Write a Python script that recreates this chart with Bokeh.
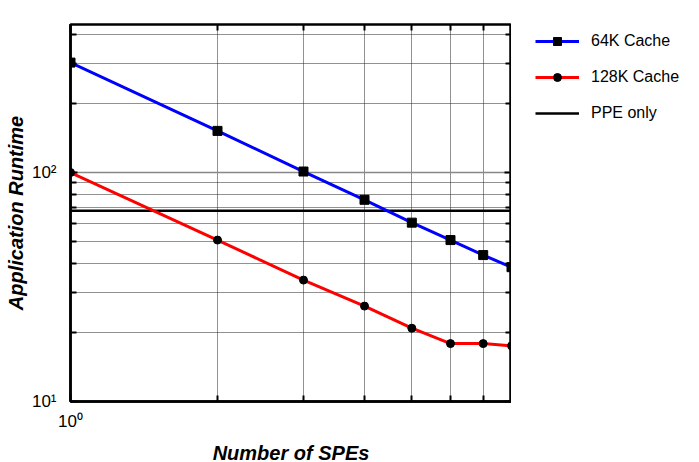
from bokeh.plotting import figure
from bokeh.models import FixedTicker, LogAxis, Legend, LegendItem
from bokeh.layouts import row
from bokeh.embed import file_html
from bokeh.resources import INLINE

spes = [1, 2, 3, 4, 5, 6, 7, 8]
cache_64k = [302, 152, 101, 76, 60.4, 50.7, 43.6, 38.6]
cache_128k = [100, 50.7, 33.9, 26.1, 20.9, 17.9, 17.9, 17.5]
ppe_x = [1, 8]
ppe_only = [68, 68]

y_major = [10, 100]
y_minor = [20, 30, 40, 50, 60, 70, 80, 90, 200, 300, 400]
x_major = [1]
x_minor = [2, 3, 4, 5, 6, 7, 8, 9]
y_labels = {10: "10¹", 100: "10²"}
x_labels = {1: "10⁰"}
series_names = ["64K Cache", "128K Cache", "PPE only"]

FONT = "Liberation Sans"

p = figure(frame_width=441, frame_height=377, x_axis_type="log", y_axis_type="log",
           x_range=(1, 8), y_range=(10, 443),
           output_backend="svg", toolbar_location=None,
           min_border_left=70, min_border_right=0, min_border_top=24, min_border_bottom=61)

p.outline_line_color = "black"
p.outline_line_width = 2.5

xt = FixedTicker(ticks=x_major, minor_ticks=x_minor)
yt = FixedTicker(ticks=y_major, minor_ticks=y_minor)

for ax, t, labels in ((p.xaxis[0], xt, x_labels), (p.yaxis[0], yt, y_labels)):
    ax.ticker = t
    ax.major_label_overrides = labels
    ax.major_label_text_font = FONT
    ax.major_label_text_font_size = "17px"
    ax.major_label_text_color = "black"
    ax.axis_line_color = "black"
    ax.axis_line_width = 2.5
    ax.major_tick_in = 7
    ax.major_tick_out = 0
    ax.minor_tick_in = 6
    ax.minor_tick_out = 0
    ax.major_tick_line_width = 2
    ax.minor_tick_line_width = 2
    ax.axis_label_text_font = FONT
    ax.axis_label_text_font_style = "bold italic"
    ax.axis_label_text_font_size = "20px"
    ax.axis_label_text_color = "black"

p.xaxis[0].axis_label = "Number of SPEs"
p.yaxis[0].axis_label = "Application Runtime"
p.xaxis[0].major_label_standoff = 10
p.yaxis[0].major_label_standoff = 14
p.xaxis[0].axis_label_standoff = 8
p.yaxis[0].axis_label_standoff = 2

for loc, t in (("right", yt), ("above", xt)):
    ax = LogAxis(ticker=t, major_label_overrides={v: "" for v in t.ticks},
                 major_label_text_font_size="1px", major_label_text_color=None,
                 major_label_standoff=0, axis_line_color=None,
                 major_tick_in=7, major_tick_out=0, minor_tick_in=6, minor_tick_out=0,
                 major_tick_line_width=2, minor_tick_line_width=2)
    p.add_layout(ax, loc)

p.xgrid.ticker = xt
p.ygrid.ticker = yt
p.xgrid.grid_line_color = None
p.ygrid.grid_line_color = "#888888"
p.ygrid.grid_line_width = 1.5
for g in (p.xgrid[0], p.ygrid[0]):
    g.minor_grid_line_color = "#222222"
    g.minor_grid_line_dash = "1 1"
    g.minor_grid_line_width = 1

ppe = p.line(ppe_x, ppe_only, line_color="black", line_width=2.5)
l64 = p.line(spes, cache_64k, line_color="blue", line_width=3)
m64 = p.scatter(spes, cache_64k, marker="square", size=9, color="black")
l128 = p.line(spes, cache_128k, line_color="red", line_width=3)
m128 = p.scatter(spes, cache_128k, marker="circle", size=8, color="black")

# legend panel to the right of the plot frame (same series, kept out of view)
q = figure(width=188, height=462, x_range=(-10, -9), y_range=(-10, -9), title=None,
           output_backend="svg", toolbar_location=None,
           x_axis_location=None, y_axis_location=None,
           min_border=0, min_border_left=17)
q.outline_line_color = None
q.grid.visible = False
k64 = q.line(spes, cache_64k, line_color="blue", line_width=3)
k64m = q.scatter(spes, cache_64k, marker="square", size=9, color="black")
k128 = q.line(spes, cache_128k, line_color="red", line_width=3)
k128m = q.scatter(spes, cache_128k, marker="circle", size=8, color="black")
kppe = q.line(ppe_x, ppe_only, line_color="black", line_width=2.5)

legend = Legend(items=[
    LegendItem(label=series_names[0], renderers=[k64, k64m]),
    LegendItem(label=series_names[1], renderers=[k128, k128m]),
    LegendItem(label=series_names[2], renderers=[kppe]),
], location="top_left")
legend.background_fill_alpha = 0
legend.border_line_color = None
legend.padding = 0
legend.margin = 7
legend.spacing = 16
legend.glyph_width = 44
legend.glyph_height = 20
legend.label_height = 20
legend.label_standoff = 12
legend.label_text_font = FONT
legend.label_text_font_size = "16px"
legend.label_text_color = "black"
q.add_layout(legend, "center")

open("out.html", "w").write(file_html(row(p, q), INLINE))
